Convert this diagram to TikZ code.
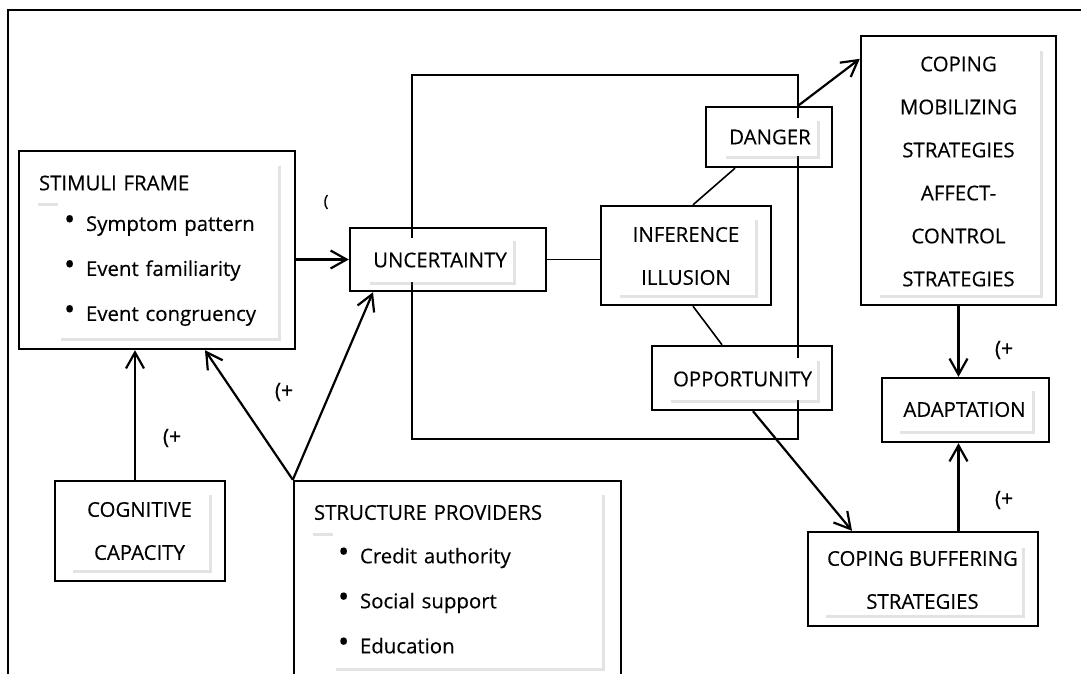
\documentclass[tikz,border=0pt]{standalone}
\usepackage{fontspec}
\setmainfont{Open Sans}[FakeBold=0.3]
\usetikzlibrary{positioning}
\usetikzlibrary{calc}
\usetikzlibrary{fit}
\usetikzlibrary{shadows}
\usetikzlibrary{arrows.meta}
\newcommand{\bul}{\makebox[11pt][l]{\raisebox{0.6pt}{\fontsize{15pt}{15pt}\selectfont\textbullet}}}

\begin{document}
\begin{tikzpicture}[x=0.5pt, y=-0.5pt]
    % Styles
    \tikzset{
        box/.style={draw, line width=1.2pt, inner sep=0pt},
        txt/.style={fill=white, inner sep=0pt, align=center,
            font=\fontsize{10.2pt}{21.5pt}\selectfont,
            drop shadow={shadow xshift=1.3pt, shadow yshift=-1.3pt, opacity=0.22}},
        lst/.style={txt, align=left, font=\fontsize{10.2pt}{22.5pt}\selectfont},
        arr/.style={-{Straight Barb[length=8pt,width=9pt]}, line width=1.1pt},
        thin/.style={line width=0.8pt},
        sign/.style={font=\fontsize{10.5pt}{12pt}\selectfont, inner sep=0pt},
    }

    \clip (0,0) rectangle (1081,674);

    % Frame
    \draw[line width=1.2pt] (8,674) -- (8,10) -- (1081,10);
    \draw[thin] (412,75) rectangle (798,439);

    % Boxes
    \node[box, fit={(19,151) (295,349)}] (stim) {};
    \node[box, fit={(55,481) (225,581)}] (cog) {};
    \node[box, fit={(294,481) (621,700)}] (struc) {};
    \node[box, fit={(350,228) (546,291)}] (unc) {};
    \node[box, fit={(601,206) (771,305)}] (inf) {};
    \node[box, fit={(706,107) (832,167)}] (dan) {};
    \node[box, fit={(652,346) (832,410)}] (opp) {};
    \node[box, fit={(861,36) (1056,305)}] (cop) {};
    \node[box, fit={(882,378) (1049,442)}] (ada) {};
    \node[box, fit={(808,532) (1038,626)}] (buf) {};

    % Connection
    \draw[arr] (stim.east |- unc.west) -- (unc.west);
    \draw[thin] (unc.east) -- (unc.east -| inf.west);
    \draw[thin] ([xshift=3.5pt]inf.north) -- ([xshift=-17pt]dan.south);
    \draw[arr] ([xshift=14.5pt]dan.north) -- ([yshift=-12pt]cop.north west);
    \draw[thin] ([xshift=3.5pt]inf.south) -- ([xshift=-10pt]opp.north);
    \draw[arr] ([xshift=5.5pt]opp.south) -- ([xshift=-35.5pt]buf.north);
    \draw[arr] (cop.south) -- (ada.north -| cop.south);
    \draw[arr] (buf.north -| cop.south) -- (ada.south -| cop.south);
    \draw[arr] ([xshift=-2.5pt]cog.north) -- ([xshift=-2.5pt]cog.north |- stim.south);
    \draw[arr] (struc.north west) -- ([xshift=24pt]stim.south);
    \draw[arr] (struc.north west) -- ([xshift=-37.5pt]unc.south);

    % Texts
    \node[lst, text width=117.5pt, inner xsep=2pt, minimum height=20pt] (stimt) at (156.5,183) {STIMULI FRAME};
    \node[lst, text width=104pt, inner xsep=3pt, minimum height=67.5pt] (stiml) at (168,270.5)
        {\bul Symptom pattern\\ \bul Event familiarity\\ \bul Event congruency};
    \node[txt, minimum width=69.5pt, minimum height=39pt] (cogt) at (139.5,531) {COGNITIVE\\ CAPACITY};
    \node[lst, text width=142pt, inner xsep=2pt, minimum height=20.5pt] (struct) at (456,512.5) {STRUCTURE PROVIDERS};
    \node[lst, text width=129.5pt, inner xsep=2.5pt, minimum height=67.5pt] (strucl) at (467.5,600.5)
        {\bul Credit authority\\ \bul Social support\\ \bul Education};
    \node[txt, minimum width=73pt, minimum height=22pt] (unct) at (440,260) {UNCERTAINTY};
    \node[txt, minimum width=69pt, minimum height=39pt] (inft) at (686,256) {INFERENCE\\ ILLUSION};
    \node[txt, minimum width=47pt, minimum height=19pt] (dant) at (770,137) {DANGER};
    \node[txt, minimum width=81.5pt, minimum height=123.5pt] (copt) at (958.5,171.5)
        {COPING\\ MOBILIZING\\ STRATEGIES\\ AFFECT-\\ CONTROL\\ STRATEGIES};
    \node[txt, minimum width=74.5pt, minimum height=21pt] (oppt) at (742.5,379) {OPPORTUNITY};
    \node[txt, minimum width=67.5pt, minimum height=21.5pt] (adat) at (964.5,409.5) {ADAPTATION};
    \node[txt, minimum width=99.5pt, minimum height=35pt] (buft) at (922.5,580) {COPING BUFFERING\\ STRATEGIES};

    % Signs
    \node[sign] (s1) at (172,438) {(+};
    \node[sign] (s2) at (284,392) {(+};
    \node[sign] (s3) at (1004,350) {(+};
    \node[sign] (s4) at (1004,500) {(+};
    \node[sign, font=\fontsize{8pt}{9pt}\selectfont] (s5) at (326,202) {(};
\end{tikzpicture}
\end{document}
